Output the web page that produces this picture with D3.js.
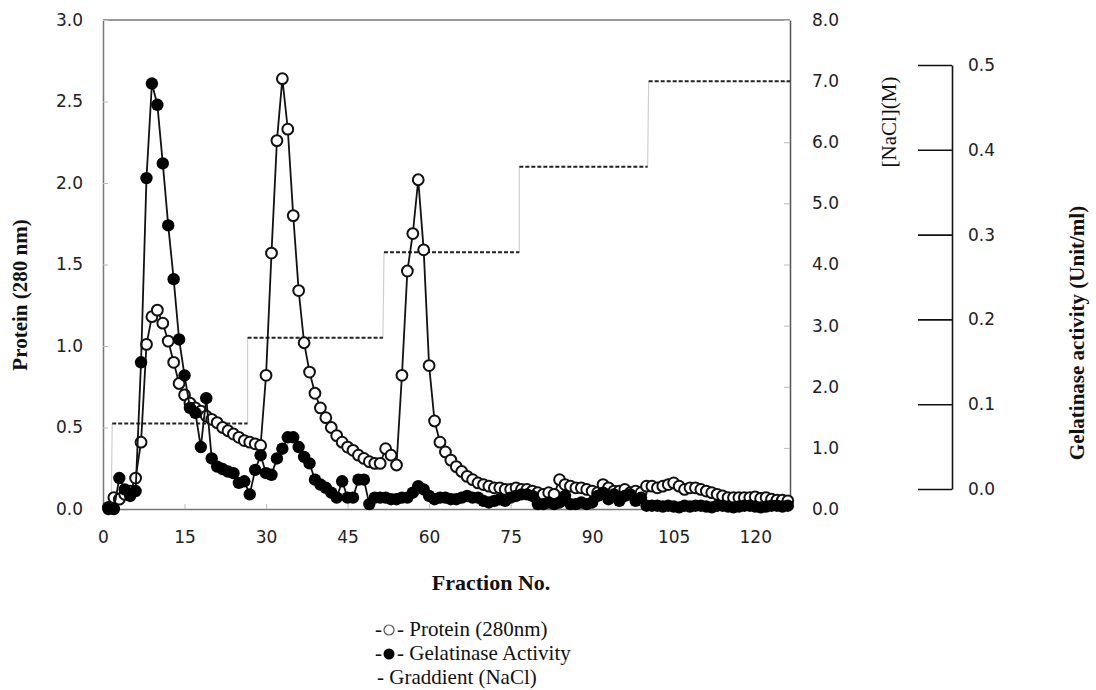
<!DOCTYPE html>
<html>
<head>
<meta charset="utf-8">
<script src="https://cdn.jsdelivr.net/npm/d3@7"></script>
<style>
  body { margin: 0; background: #fff; }
  .tick text { font-family: 'DejaVu Sans', sans-serif; font-size: 17px; fill: #222; }
  .serif { font-family: 'Liberation Serif', 'Times New Roman', serif; fill: #111; }
</style>
</head>
<body>
<svg width="1096" height="690"></svg>
<script>
// Protein (A280) per fraction, starting at fraction 1
var protein = [
  0.01, 0.07, 0.06, 0.09, 0.11, 0.19, 0.41, 1.01, 1.18, 1.22,
  1.14, 1.03, 0.90, 0.77, 0.70, 0.65, 0.62, 0.60, 0.57, 0.55,
  0.53, 0.50, 0.48, 0.46, 0.44, 0.42, 0.41, 0.40, 0.39, 0.82,
  1.57, 2.26, 2.64, 2.33, 1.80, 1.34, 1.02, 0.84, 0.71, 0.62,
  0.56, 0.50, 0.45, 0.41, 0.38, 0.36, 0.33, 0.31, 0.29, 0.28,
  0.28, 0.37, 0.33, 0.27, 0.82, 1.46, 1.69, 2.02, 1.59, 0.88,
  0.54, 0.41, 0.35, 0.30, 0.26, 0.23, 0.20, 0.18, 0.16, 0.15,
  0.14, 0.13, 0.13, 0.12, 0.12, 0.13, 0.12, 0.12, 0.11, 0.10,
  0.09, 0.10, 0.09, 0.18, 0.15, 0.14, 0.13, 0.13, 0.12, 0.11,
  0.10, 0.15, 0.13, 0.11, 0.11, 0.12, 0.10, 0.11, 0.10, 0.14,
  0.14, 0.13, 0.14, 0.15, 0.16, 0.14, 0.12, 0.13, 0.13, 0.12,
  0.11, 0.10, 0.09, 0.08, 0.07, 0.07, 0.07, 0.07, 0.07, 0.075,
  0.065, 0.07, 0.06, 0.055, 0.055, 0.05
];

// Gelatinase activity, as plotted against the left axis
var gelatinase = [
  0.00, 0.00, 0.19, 0.12, 0.08, 0.11, 0.90, 2.03, 2.61, 2.48,
  2.12, 1.74, 1.41, 1.04, 0.82, 0.62, 0.59, 0.38, 0.68, 0.31,
  0.26, 0.245, 0.23, 0.22, 0.16, 0.17, 0.09, 0.24, 0.33, 0.22,
  0.21, 0.31, 0.37, 0.44, 0.44, 0.38, 0.32, 0.28, 0.18, 0.15,
  0.13, 0.10, 0.07, 0.17, 0.07, 0.07, 0.18, 0.18, 0.03, 0.07,
  0.07, 0.07, 0.06, 0.06, 0.07, 0.07, 0.10, 0.14, 0.12, 0.08,
  0.06, 0.07, 0.07, 0.06, 0.06, 0.07, 0.08, 0.07, 0.07, 0.05,
  0.04, 0.05, 0.06, 0.05, 0.07, 0.08, 0.09, 0.09, 0.08, 0.03,
  0.03, 0.04, 0.03, 0.04, 0.08, 0.03, 0.03, 0.04, 0.03, 0.04,
  0.08, 0.10, 0.06, 0.09, 0.05, 0.08, 0.09, 0.05, 0.07, 0.02,
  0.02, 0.02, 0.015, 0.02, 0.015, 0.01, 0.02, 0.015, 0.02, 0.02,
  0.015, 0.01, 0.02, 0.02, 0.015, 0.01, 0.015, 0.02, 0.02, 0.015,
  0.01, 0.015, 0.02, 0.02, 0.015, 0.02
];

// NaCl step gradient (right axis)
var gradLevels = [1.4, 2.8, 4.2, 5.6, 7.0];
var gradStart = [1.7, 26.6, 51.7, 76.6, 100.4];
var gradEnd = [26.6, 51.5, 76.6, 100.2, 126.4];

var xTicks = [0, 15, 30, 45, 60, 75, 90, 105, 120];
var gelTicks = [0, 0.1, 0.2, 0.3, 0.4, 0.5];

var fractions = d3.range(1, protein.length + 1);

var svg = d3.select('svg');
var plot = {l: 103, r: 790, t: 20, b: 509};

var xScale = d3.scaleLinear().domain([0, 126.4]).range([plot.l, plot.r]);
var yLeft = d3.scaleLinear().domain([0, 3]).range([plot.b, plot.t]);
var yRight = d3.scaleLinear().domain([0, 8]).range([plot.b, plot.t]);
var yGel = d3.scaleLinear().domain([0, 0.5]).range([489, 65]);

// frame top line
svg.append('line')
    .attr('x1', plot.l).attr('x2', plot.r)
    .attr('y1', plot.t).attr('y2', plot.t)
    .attr('stroke', '#777').attr('stroke-width', 1.5);

function styleAxis(g, color) {
    g.select('.domain').attr('stroke', color).attr('stroke-width', 1.5);
    g.selectAll('.tick line').attr('stroke', '#bbb');
}

var leftAxisG = svg.append('g')
    .attr('transform', 'translate(' + plot.l + ',0)')
    .call(d3.axisLeft(yLeft).ticks(6).tickFormat(d3.format('.1f'))
        .tickSize(-5).tickSizeOuter(0).tickPadding(20));
styleAxis(leftAxisG, '#777');

var rightAxisG = svg.append('g')
    .attr('transform', 'translate(' + plot.r + ',0)')
    .call(d3.axisRight(yRight).ticks(8).tickFormat(d3.format('.1f'))
        .tickSize(-6).tickSizeOuter(0).tickPadding(22));
styleAxis(rightAxisG, '#555');

var xAxisG = svg.append('g')
    .attr('transform', 'translate(0,' + plot.b + ')')
    .call(d3.axisBottom(xScale).tickValues(xTicks)
        .tickSize(-5).tickSizeOuter(0).tickPadding(22));
styleAxis(xAxisG, '#777');

// separate gelatinase axis
var gelAxisG = svg.append('g')
    .attr('transform', 'translate(952,0)')
    .call(d3.axisRight(yGel).tickValues(gelTicks).tickFormat(d3.format('.1f'))
        .tickSize(-34).tickSizeOuter(0).tickPadding(16));
gelAxisG.select('.domain').attr('stroke', '#111').attr('stroke-width', 1.6);
gelAxisG.selectAll('.tick line').attr('stroke', '#111').attr('stroke-width', 1.6);

// gradient: gray risers then dashed steps
var risers = [[1.5, 0, gradStart[0], gradLevels[0]]];
for (var i = 0; i < gradLevels.length - 1; i++) {
    risers.push([gradEnd[i], gradLevels[i], gradStart[i + 1], gradLevels[i + 1]]);
}
svg.selectAll('.riser').data(risers).enter().append('line')
    .attr('class', 'riser')
    .attr('x1', function(d) { return xScale(d[0]); })
    .attr('y1', function(d) { return yRight(d[1]); })
    .attr('x2', function(d) { return xScale(d[2]); })
    .attr('y2', function(d) { return yRight(d[3]); })
    .attr('stroke', '#d0d0d0').attr('stroke-width', 1.2);

svg.selectAll('.step').data(gradLevels).enter().append('line')
    .attr('class', 'step')
    .attr('x1', function(d, i) { return xScale(gradStart[i]); })
    .attr('x2', function(d, i) { return xScale(gradEnd[i]); })
    .attr('y1', function(d) { return yRight(d); })
    .attr('y2', function(d) { return yRight(d); })
    .attr('stroke', '#222').attr('stroke-width', 2)
    .attr('stroke-dasharray', '4,2');

// protein series
var line = d3.line()
    .x(function(d) { return xScale(d[0]); })
    .y(function(d) { return yLeft(d[1]); });

var protData = fractions.map(function(f, i) { return [f, protein[i]]; });
var gelData = fractions.map(function(f, i) { return [f, gelatinase[i]]; });

svg.append('path').datum(protData)
    .attr('d', line).attr('fill', 'none')
    .attr('stroke', '#111').attr('stroke-width', 1.8);
svg.selectAll('.pdot').data(protData).enter().append('circle')
    .attr('class', 'pdot')
    .attr('cx', function(d) { return xScale(d[0]); })
    .attr('cy', function(d) { return yLeft(d[1]); })
    .attr('r', 5.4)
    .attr('fill', '#fff').attr('stroke', '#111').attr('stroke-width', 2);

// gelatinase series
svg.append('path').datum(gelData)
    .attr('d', line).attr('fill', 'none')
    .attr('stroke', '#111').attr('stroke-width', 1.8);
svg.selectAll('.gdot').data(gelData).enter().append('circle')
    .attr('class', 'gdot')
    .attr('cx', function(d) { return xScale(d[0]); })
    .attr('cy', function(d) { return yLeft(d[1]); })
    .attr('r', 6.2)
    .attr('fill', '#000');

// axis titles
svg.append('text').attr('class', 'serif')
    .attr('transform', 'translate(27,295) rotate(-90)')
    .attr('text-anchor', 'middle')
    .style('font-size', '21px').style('font-weight', 'bold')
    .text('Protein (280 nm)');

svg.append('text').attr('class', 'serif')
    .attr('transform', 'translate(896,122) rotate(-90)')
    .attr('text-anchor', 'middle')
    .style('font-size', '21px')
    .text('[NaCl](M)');

svg.append('text').attr('class', 'serif')
    .attr('transform', 'translate(1084,333) rotate(-90)')
    .attr('text-anchor', 'middle')
    .style('font-size', '21px').style('font-weight', 'bold')
    .text('Gelatinase activity (Unit/ml)');

svg.append('text').attr('class', 'serif')
    .attr('x', 491).attr('y', 590)
    .attr('text-anchor', 'middle')
    .style('font-size', '22px').style('font-weight', 'bold')
    .text('Fraction No.');

// legend
var legendLabels = ['- Protein (280nm)', '- Gelatinase Activity', '- Graddient (NaCl)'];
var legendMarks = ['open', 'filled', null];
var legG = svg.append('g');
legendLabels.forEach(function(label, i) {
    var y = 636 + i * 24;
    if (legendMarks[i]) {
        legG.append('text').attr('class', 'serif')
            .attr('x', 375).attr('y', y).style('font-size', '21px').text('-');
        legG.append('circle')
            .attr('cx', 389).attr('cy', y - 6)
            .attr('r', legendMarks[i] === 'open' ? 5 : 5.5)
            .attr('fill', legendMarks[i] === 'open' ? '#fff' : '#000')
            .attr('stroke', legendMarks[i] === 'open' ? '#555' : 'none')
            .attr('stroke-width', 1.2);
        legG.append('text').attr('class', 'serif')
            .attr('x', 397).attr('y', y).style('font-size', '21px').text(label);
    } else {
        legG.append('text').attr('class', 'serif')
            .attr('x', 377).attr('y', y).style('font-size', '21px').text(label);
    }
});
</script>
</body>
</html>
